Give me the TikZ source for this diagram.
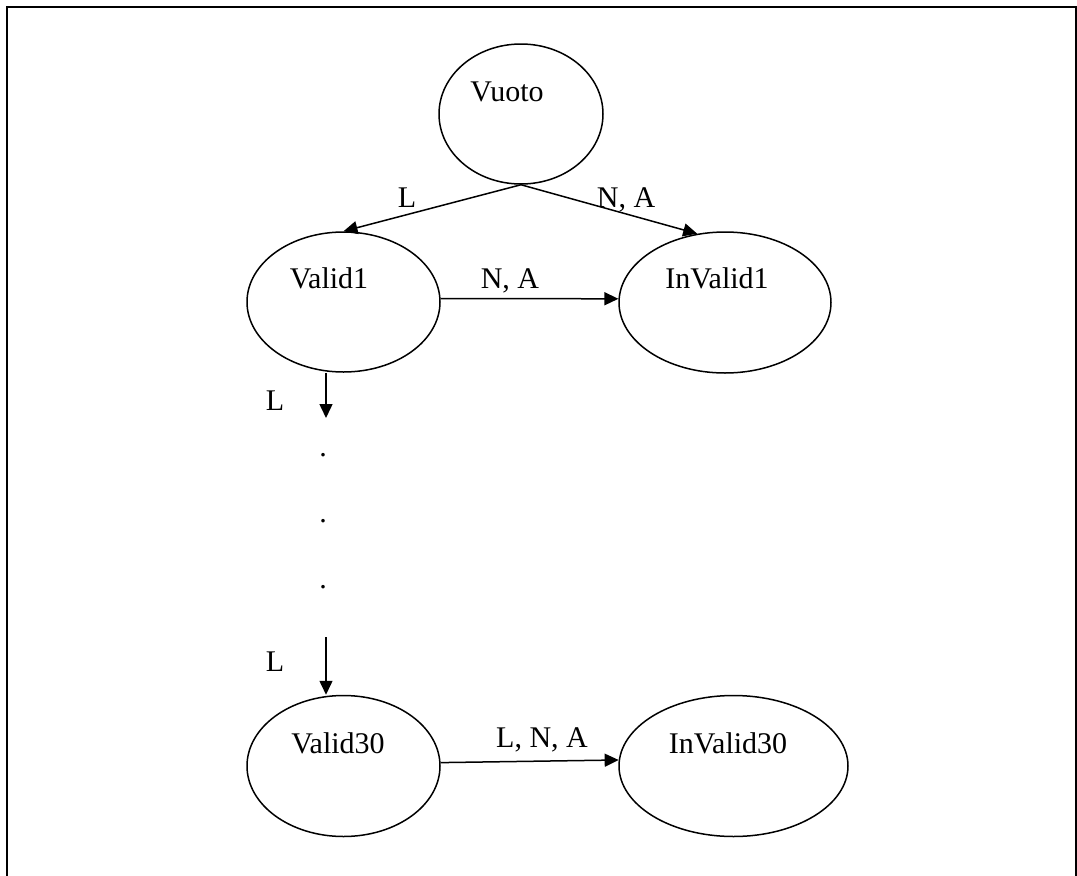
\documentclass[tikz,border=0pt]{standalone}
\usepackage{fontspec}
\setmainfont{Liberation Serif}
\usetikzlibrary{shapes.geometric,arrows.meta}
\tikzset{
  state/.style={draw, ellipse, line width=1.5pt, inner sep=0pt},
  txt/.style={anchor=base, inner sep=0pt, font=\fontsize{30}{36}\selectfont},
  dotmark/.style={inner sep=0pt, font=\fontsize{30}{36}\selectfont},
  conn/.style={line width=1.5pt, -{Triangle[length=14pt,width=13pt]}},
  frame/.style={line width=2pt}
}
\begin{document}
\begin{tikzpicture}[x=1pt,y=-1pt]
\useasboundingbox (0,0) rectangle (1077,876);
\draw[frame] (6.5,876) -- (6.5,6.5) -- (1075.5,6.5) -- (1075.5,876);

% states
\node[state, minimum width=164pt, minimum height=140pt] (vuoto) at (521,114) {};
\node[state, minimum width=193pt, minimum height=140pt] (valid1) at (343.5,302) {};
\node[state, minimum width=212pt, minimum height=141pt] (invalid1) at (725,302.5) {};
\node[state, minimum width=193pt, minimum height=141pt] (valid30) at (343.5,766) {};
\node[state, minimum width=229pt, minimum height=141pt] (invalid30) at (733.5,766) {};

% state texts
\node[txt] (tvuoto) at (507,101) {Vuoto};
\node[txt] (tvalid1) at (329,288) {Valid1};
\node[txt] (tinvalid1) at (717,288) {InValid1};
\node[txt] (tvalid30) at (338,753) {Valid30};
\node[txt] (tinvalid30) at (728,753) {InValid30};

% connectors
\draw[conn] (vuoto.south) -- (valid1.north);
\draw[conn] (vuoto.south) -- (invalid1.112);
\draw[conn] (valid1.2.5) -- (invalid1.178.4);
\coordinate (m1) at (326,418);
\coordinate (m2) at (326,637);
\draw[conn] (valid1.south -| m1) -- (m1);
\draw[conn] (m2) -- (valid30.north -| m2);
\draw[conn] (valid30.2.4) -- (invalid30.177.5);

% connector labels
\node[txt] (lL) at (407,207) {L};
\node[txt] (lNA1) at (626,207) {N, A};
\node[txt] (lNA2) at (510,288) {N, A};
\node[txt] (lL1) at (275,410) {L};
\node[txt] (lL2) at (275,671) {L};
\node[txt] (lLNA) at (542,747) {L, N, A};

% dots
\node[dotmark] (d1) at (323,455) {.};
\node[dotmark] (d2) at (323,521) {.};
\node[dotmark] (d3) at (323,587) {.};
\end{tikzpicture}
\end{document}
